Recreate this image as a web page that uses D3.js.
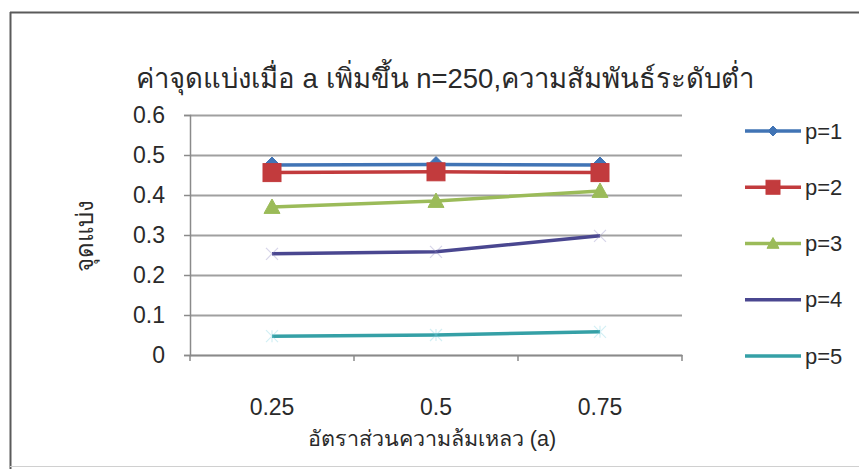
<!DOCTYPE html>
<html>
<head>
<meta charset="utf-8">
<script src="https://cdn.jsdelivr.net/npm/d3@7"></script>
<style>
  html, body { margin: 0; padding: 0; background: #fff; }
  svg { display: block; }
  text { font-family: "Liberation Sans", "DejaVu Sans", sans-serif; fill: #2a2a2a; }
</style>
</head>
<body>
<svg id="chart" width="859" height="469"></svg>
<script>
// Error-rate ratio categories (x axis)
const categories = ["0.25", "0.5", "0.75"];
// Cut-point values for each p
const seriesNames = ["p=1", "p=2", "p=3", "p=4", "p=5"];
const p1 = [0.475, 0.476, 0.475];
const p2 = [0.456, 0.458, 0.456];
const p3 = [0.370, 0.385, 0.410];
const p4 = [0.253, 0.258, 0.298];
const p5 = [0.047, 0.050, 0.058];
const yTicks = [0, 0.1, 0.2, 0.3, 0.4, 0.5, 0.6];

const titleText = "ค่าจุดแบ่งเมื่อ a เพิ่มขึ้น n=250,ความสัมพันธ์ระดับต่ำ";
const xTitle = "อัตราส่วนความล้มเหลว (a)";
const yTitle = "จุดแบ่ง";

const series = [
  { name: seriesNames[0], values: p1, color: "#4174b5", marker: "diamond" },
  { name: seriesNames[1], values: p2, color: "#c23b3d", marker: "square" },
  { name: seriesNames[2], values: p3, color: "#9bbb59", marker: "triangle" },
  { name: seriesNames[3], values: p4, color: "#4a4790", marker: "cross" },
  { name: seriesNames[4], values: p5, color: "#35a0a6", marker: "star" }
];

const svg = d3.select("#chart");

// Chart frame
svg.append("line").attr("x1", 10).attr("y1", 12.5).attr("x2", 859).attr("y2", 12.5)
  .attr("stroke", "#5a5a5a").attr("stroke-width", 2);
svg.append("line").attr("x1", 10.5).attr("y1", 12).attr("x2", 10.5).attr("y2", 469)
  .attr("stroke", "#5a5a5a").attr("stroke-width", 2);
svg.append("line").attr("x1", 10).attr("y1", 466.5).attr("x2", 859).attr("y2", 466.5)
  .attr("stroke", "#d0d0d0").attr("stroke-width", 1);

const plot = { left: 190, right: 682, top: 115, bottom: 355 };

const x = d3.scaleBand().domain(categories).range([plot.left, plot.right]);
const y = d3.scaleLinear().domain([0, 0.6]).range([plot.bottom, plot.top]);

// Horizontal gridlines
svg.append("g").selectAll("line").data(yTicks).join("line")
  .attr("x1", plot.left).attr("x2", plot.right)
  .attr("y1", d => Math.round(y(d)) + 0.5).attr("y2", d => Math.round(y(d)) + 0.5)
  .attr("stroke", "#a0a0a0").attr("stroke-width", 1.8);

// Y axis
const yAxis = svg.append("g")
  .attr("transform", `translate(${plot.left},0)`)
  .call(d3.axisLeft(y).tickValues(yTicks).tickFormat(d => d === 0 ? "0" : d3.format(".1f")(d))
    .tickSize(6).tickPadding(19));
yAxis.select(".domain").attr("stroke", "#8a8a8a").attr("stroke-width", 1.5);
yAxis.selectAll(".tick line").attr("stroke", "#8a8a8a").attr("stroke-width", 1.5);
yAxis.selectAll("text").style("font-size", "23px").attr("fill", "#2a2a2a");

// X axis: baseline, boundary ticks and category labels
const xAxis = svg.append("g")
  .attr("transform", `translate(0,${plot.bottom})`)
  .call(d3.axisBottom(x).tickSize(0));
xAxis.select(".domain").attr("stroke", "#8a8a8a").attr("stroke-width", 1.5);
xAxis.selectAll("text").attr("y", 60).attr("dy", 0)
  .style("font-size", "23px").attr("fill", "#2a2a2a");
const bounds = categories.map(c => x(c)).concat([x(categories[categories.length - 1]) + x.bandwidth()]);
xAxis.append("g").selectAll("line").data(bounds).join("line")
  .attr("x1", d => d).attr("x2", d => d).attr("y1", 0).attr("y2", 6)
  .attr("stroke", "#8a8a8a").attr("stroke-width", 1.5);

// Marker shapes
function drawMarker(g, type, color, size) {
  const s = size;
  if (type === "diamond") {
    g.append("path").attr("d", `M0,${-s}L${s},0L0,${s}L${-s},0Z`).attr("fill", color).attr("stroke", color);
  } else if (type === "square") {
    g.append("rect").attr("x", -s).attr("y", -s).attr("width", 2 * s).attr("height", 2 * s)
      .attr("fill", color).attr("stroke", color);
  } else if (type === "triangle") {
    g.append("path").attr("d", `M0,${-s}L${s},${s * 0.8}L${-s},${s * 0.8}Z`).attr("fill", color).attr("stroke", color);
  } else if (type === "cross") {
    g.append("path").attr("d", `M${-s},${-s}L${s},${s}M${-s},${s}L${s},${-s}`)
      .attr("stroke", color).attr("stroke-width", 1.2).attr("fill", "none").attr("opacity", 0.35);
  } else if (type === "star") {
    g.append("path").attr("d", `M${-s},${-s}L${s},${s}M${-s},${s}L${s},${-s}M0,${-s}L0,${s}`)
      .attr("stroke", color).attr("stroke-width", 1.2).attr("fill", "none").attr("opacity", 0.35);
  }
}

const line = d3.line()
  .x((d, i) => x(categories[i]) + x.bandwidth() / 2)
  .y(d => y(d));

// Series lines and markers; later series draw over earlier ones
const markerSize = { diamond: 8, square: 9, triangle: 8, cross: 6, star: 6 };
series.forEach(s => {
  svg.append("path").datum(s.values)
    .attr("d", line).attr("fill", "none")
    .attr("stroke", s.color).attr("stroke-width", 3.5);
  s.values.forEach((v, i) => {
    const g = svg.append("g")
      .attr("transform", `translate(${x(categories[i]) + x.bandwidth() / 2},${y(v)})`);
    drawMarker(g, s.marker, s.marker === "cross" ? "#8c86c0" : s.marker === "star" ? "#7fd0e0" : s.color, markerSize[s.marker]);
  });
});

// Legend
const legend = svg.append("g");
series.forEach((s, i) => {
  const ly = 131 + i * 56.25;
  const g = legend.append("g").attr("transform", `translate(0,${ly})`);
  g.append("line").attr("x1", 745).attr("x2", 801).attr("y1", 0).attr("y2", 0)
    .attr("stroke", s.color).attr("stroke-width", 3.5);
  const m = g.append("g").attr("transform", "translate(773,0)");
  if (s.marker === "diamond") drawMarker(m, "diamond", s.color, 5);
  if (s.marker === "square") drawMarker(m, "square", s.color, 7);
  if (s.marker === "triangle") drawMarker(m, "triangle", s.color, 6);
  g.append("text").attr("x", 805).attr("y", 0).attr("dy", "0.35em")
    .style("font-size", "22px").text(s.name);
});

// Titles
svg.append("text").attr("x", 445).attr("y", 88).attr("text-anchor", "middle")
  .style("font-size", "27.5px").text(titleText);
svg.append("text").attr("x", 432).attr("y", 446).attr("text-anchor", "middle")
  .style("font-size", "21.5px").text(xTitle);
svg.append("text").attr("transform", "translate(85,236) rotate(-90)")
  .attr("text-anchor", "middle").attr("dy", "0.35em")
  .style("font-size", "24px").text(yTitle);
</script>
</body>
</html>
